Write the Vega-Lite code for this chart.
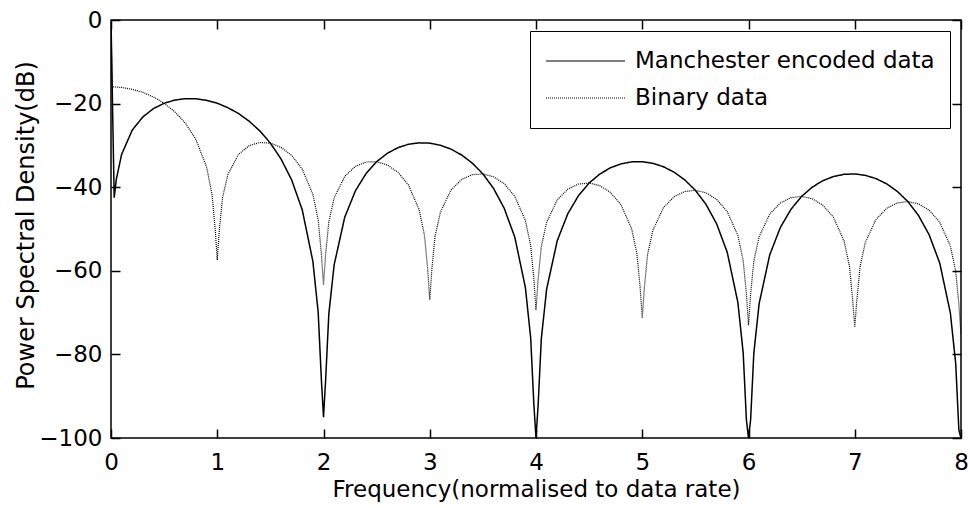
{
  "$schema": "https://vega.github.io/schema/vega-lite/v6.json",
  "width": 850,
  "height": 418,
  "autosize": {"type": "none"},
  "padding": {"left": 111, "top": 20, "right": 9, "bottom": 70},
  "background": "white",
  "config": {
    "view": {"stroke": "black", "strokeWidth": 1.5},
    "font": "DejaVu Sans",
    "axis": {
      "domain": false,
      "grid": false,
      "ticks": true,
      "tickColor": "black",
      "tickWidth": 1.5,
      "tickOpacity": 1,
      "labelColor": "black",
      "titleColor": "black",
      "labelFont": "DejaVu Sans",
      "titleFont": "DejaVu Sans",
      "labelFontSize": 23,
      "titleFontSize": 23,
      "titleFontWeight": "normal",
      "labelFlush": false,
      "labelOverlap": false
    }
  },
  "datasets": {
    "manchester": [
      {"f":0,"p":0},{"f":0.03,"p":-42.5},{"f":0.05,"p":-38.11},{"f":0.1,"p":-32.15},{"f":0.2,"p":-26.34},{"f":0.3,"p":-23.18},{"f":0.4,"p":-21.19},{"f":0.5,"p":-19.92},{"f":0.6,"p":-19.16},{"f":0.7,"p":-18.82},{"f":0.8,"p":-18.85},{"f":0.9,"p":-19.22},
      {"f":1,"p":-19.92},{"f":1.1,"p":-20.97},{"f":1.2,"p":-22.37},{"f":1.3,"p":-24.2},{"f":1.4,"p":-26.52},{"f":1.5,"p":-29.46},{"f":1.6,"p":-33.23},{"f":1.7,"p":-38.25},{"f":1.8,"p":-45.43},{"f":1.9,"p":-57.73},{"f":1.95,"p":-69.93},{"f":1.98,"p":-85.97},
      {"f":2,"p":-95},{"f":2.02,"p":-86.15},{"f":2.05,"p":-70.37},{"f":2.1,"p":-58.59},{"f":2.2,"p":-47.17},{"f":2.3,"p":-40.88},{"f":2.4,"p":-36.75},{"f":2.5,"p":-33.9},{"f":2.6,"p":-31.9},{"f":2.7,"p":-30.55},{"f":2.8,"p":-29.73},{"f":2.9,"p":-29.39},
      {"f":3,"p":-29.46},{"f":3.1,"p":-29.97},{"f":3.2,"p":-30.89},{"f":3.3,"p":-32.29},{"f":3.4,"p":-34.23},{"f":3.5,"p":-36.82},{"f":3.6,"p":-40.28},{"f":3.7,"p":-45.0},{"f":3.8,"p":-51.92},{"f":3.9,"p":-63.97},{"f":3.95,"p":-76.06},{"f":3.98,"p":-92.04},
      {"f":4,"p":-100},{"f":4.02,"p":-92.13},{"f":4.05,"p":-76.28},{"f":4.1,"p":-64.41},{"f":4.2,"p":-52.79},{"f":4.3,"p":-46.31},{"f":4.4,"p":-42.02},{"f":4.5,"p":-39.0},{"f":4.6,"p":-36.86},{"f":4.7,"p":-35.36},{"f":4.8,"p":-34.42},{"f":4.9,"p":-33.94},
      {"f":5,"p":-33.9},{"f":5.1,"p":-34.29},{"f":5.2,"p":-35.11},{"f":5.3,"p":-36.41},{"f":5.4,"p":-38.25},{"f":5.5,"p":-40.75},{"f":5.6,"p":-44.11},{"f":5.7,"p":-48.76},{"f":5.8,"p":-55.59},{"f":5.9,"p":-67.57},{"f":5.95,"p":-79.62},{"f":5.98,"p":-95.57},
      {"f":6,"p":-100},{"f":6.02,"p":-95.63},{"f":6.05,"p":-79.77},{"f":6.1,"p":-67.86},{"f":6.2,"p":-56.17},{"f":6.3,"p":-49.63},{"f":6.4,"p":-45.27},{"f":6.5,"p":-42.2},{"f":6.6,"p":-39.99},{"f":6.7,"p":-38.44},{"f":6.8,"p":-37.44},{"f":6.9,"p":-36.92},
      {"f":7,"p":-36.82},{"f":7.1,"p":-37.17},{"f":7.2,"p":-37.94},{"f":7.3,"p":-39.19},{"f":7.4,"p":-40.99},{"f":7.5,"p":-43.44},{"f":7.6,"p":-46.77},{"f":7.7,"p":-51.37},{"f":7.8,"p":-58.16},{"f":7.9,"p":-70.1},{"f":7.95,"p":-82.14},{"f":7.98,"p":-98.08},
      {"f":8,"p":-100}
    ],
    "binary": [
      {"f":0,"p":0},{"f":0.01,"p":-16.0},{"f":0.05,"p":-16.03},{"f":0.1,"p":-16.14},{"f":0.2,"p":-16.58},{"f":0.3,"p":-17.32},{"f":0.4,"p":-18.42},{"f":0.5,"p":-19.92},{"f":0.6,"p":-21.94},{"f":0.7,"p":-24.68},{"f":0.8,"p":-28.62},{"f":0.9,"p":-35.23},{"f":0.95,"p":-41.61},{"f":0.98,"p":-49.81},
      {"f":1,"p":-57.4},{"f":1.02,"p":-50.15},{"f":1.05,"p":-42.47},{"f":1.1,"p":-36.97},{"f":1.2,"p":-32.14},{"f":1.3,"p":-30.06},{"f":1.4,"p":-29.3},{"f":1.5,"p":-29.46},{"f":1.6,"p":-30.46},{"f":1.7,"p":-32.39},{"f":1.8,"p":-35.67},{"f":1.9,"p":-41.72},{"f":1.95,"p":-47.85},{"f":1.98,"p":-55.91},
      {"f":2,"p":-63.4},{"f":2.02,"p":-56.09},{"f":2.05,"p":-48.29},{"f":2.1,"p":-42.58},{"f":2.2,"p":-37.41},{"f":2.3,"p":-35.02},{"f":2.4,"p":-33.98},{"f":2.5,"p":-33.9},{"f":2.6,"p":-34.68},{"f":2.7,"p":-36.41},{"f":2.8,"p":-39.5},{"f":2.9,"p":-45.39},{"f":2.95,"p":-51.45},{"f":2.98,"p":-59.46},
      {"f":3,"p":-67.0},{"f":3.02,"p":-59.58},{"f":3.05,"p":-51.74},{"f":3.1,"p":-45.97},{"f":3.2,"p":-40.66},{"f":3.3,"p":-38.15},{"f":3.4,"p":-37.01},{"f":3.5,"p":-36.82},{"f":3.6,"p":-37.51},{"f":3.7,"p":-39.14},{"f":3.8,"p":-42.16},{"f":3.9,"p":-47.96},{"f":3.95,"p":-53.98},{"f":3.98,"p":-61.98},
      {"f":4,"p":-69.4},{"f":4.02,"p":-62.07},{"f":4.05,"p":-54.2},{"f":4.1,"p":-48.4},{"f":4.2,"p":-43.03},{"f":4.3,"p":-40.45},{"f":4.4,"p":-39.25},{"f":4.5,"p":-39.0},{"f":4.6,"p":-39.64},{"f":4.7,"p":-41.22},{"f":4.8,"p":-44.19},{"f":4.9,"p":-49.94},{"f":4.95,"p":-55.94},{"f":4.98,"p":-63.93},
      {"f":5,"p":-71.3},{"f":5.02,"p":-63.99},{"f":5.05,"p":-56.12},{"f":5.1,"p":-50.29},{"f":5.2,"p":-44.88},{"f":5.3,"p":-42.27},{"f":5.4,"p":-41.03},{"f":5.5,"p":-40.75},{"f":5.6,"p":-41.34},{"f":5.7,"p":-42.9},{"f":5.8,"p":-45.83},{"f":5.9,"p":-51.56},{"f":5.95,"p":-57.54},{"f":5.98,"p":-65.51},
      {"f":6,"p":-73.0},{"f":6.02,"p":-65.57},{"f":6.05,"p":-57.69},{"f":6.1,"p":-51.85},{"f":6.2,"p":-46.41},{"f":6.3,"p":-43.77},{"f":6.4,"p":-42.5},{"f":6.5,"p":-42.2},{"f":6.6,"p":-42.77},{"f":6.7,"p":-44.3},{"f":6.8,"p":-47.21},{"f":6.9,"p":-52.92},{"f":6.95,"p":-58.89},{"f":6.98,"p":-66.86},
      {"f":7,"p":-73.5},{"f":7.02,"p":-66.91},{"f":7.05,"p":-59.01},{"f":7.1,"p":-53.17},{"f":7.2,"p":-47.71},{"f":7.3,"p":-45.05},{"f":7.4,"p":-43.77},{"f":7.5,"p":-43.44},{"f":7.6,"p":-44.0},{"f":7.7,"p":-45.51},{"f":7.8,"p":-48.4},{"f":7.9,"p":-54.09},{"f":7.95,"p":-60.06},{"f":7.98,"p":-68.02},
      {"f":8,"p":-75.4}
    ]
  },
  "layer": [
    {
      "data": {"name": "manchester"},
      "mark": {"type": "line", "strokeWidth": 1.5, "clip": true},
      "encoding": {
        "x": {"field": "f", "type": "quantitative",
          "scale": {"domain": [0, 8], "nice": false, "zero": false},
          "axis": {"orient": "bottom", "values": [0,1,2,3,4,5,6,7,8], "offset": -9, "tickSize": 9, "ticks": true, "labelPadding": 13.5,
            "title": "Frequency(normalised to data rate)", "titleX": 425, "titleY": 67, "titleBaseline": "alphabetic", "titleAlign": "center", "titleAnchor": null}},
        "y": {"field": "p", "type": "quantitative",
          "scale": {"domain": [-100, 0], "nice": false, "zero": false},
          "axis": {"orient": "left", "values": [-100,-80,-60,-40,-20,0], "offset": -9, "tickSize": 9, "ticks": true, "labelPadding": 9,
            "title": "Power Spectral Density(dB)", "titleFontSize": 24, "titleX": -86.5, "titleY": 205, "titleAngle": 270, "titleBaseline": "alphabetic", "titleAlign": "center", "titleAnchor": null}},
        "color": {"datum": "Manchester encoded data", "type": "nominal",
          "scale": {"domain": ["Manchester encoded data", "Binary data"], "range": ["black", "black"]},
          "legend": {"orient": "none", "legendX": 419, "legendY": 11, "title": null, "direction": "vertical", "symbolType": "stroke", "symbolSize": 6241, "symbolStrokeWidth": 1.2, "clipHeight": 30, "rowPadding": 7, "padding": 15, "strokeColor": "black", "fillColor": "white", "labelFontSize": 23, "labelFont": "DejaVu Sans", "labelOffset": 9, "labelLimit": 0, "labelColor": "black"}},
        "strokeDash": {"datum": "Manchester encoded data", "type": "nominal",
          "scale": {"domain": ["Manchester encoded data", "Binary data"], "range": [[1, 0], [1, 1]]},
          "legend": {"orient": "none", "legendX": 419, "legendY": 11, "title": null, "direction": "vertical", "symbolType": "stroke", "symbolSize": 6241, "symbolStrokeWidth": 1.2, "clipHeight": 30, "rowPadding": 7, "padding": 15, "strokeColor": "black", "fillColor": "white", "labelFontSize": 23, "labelFont": "DejaVu Sans", "labelOffset": 9, "labelLimit": 0, "labelColor": "black"}}
      }
    },
    {
      "data": {"name": "binary"},
      "mark": {"type": "line", "strokeWidth": 1.2, "clip": true},
      "encoding": {
        "x": {"field": "f", "type": "quantitative",
          "scale": {"domain": [0, 8], "nice": false, "zero": false},
          "axis": {"orient": "top", "values": [0,1,2,3,4,5,6,7,8], "offset": -9, "tickSize": 9, "ticks": true, "labels": false, "title": null}},
        "y": {"field": "p", "type": "quantitative",
          "scale": {"domain": [-100, 0], "nice": false, "zero": false},
          "axis": {"orient": "right", "values": [-100,-80,-60,-40,-20,0], "offset": -9, "tickSize": 9, "ticks": true, "labels": false, "title": null}},
        "color": {"datum": "Binary data", "type": "nominal"},
        "strokeDash": {"datum": "Binary data", "type": "nominal"}
      }
    }
  ]
}
